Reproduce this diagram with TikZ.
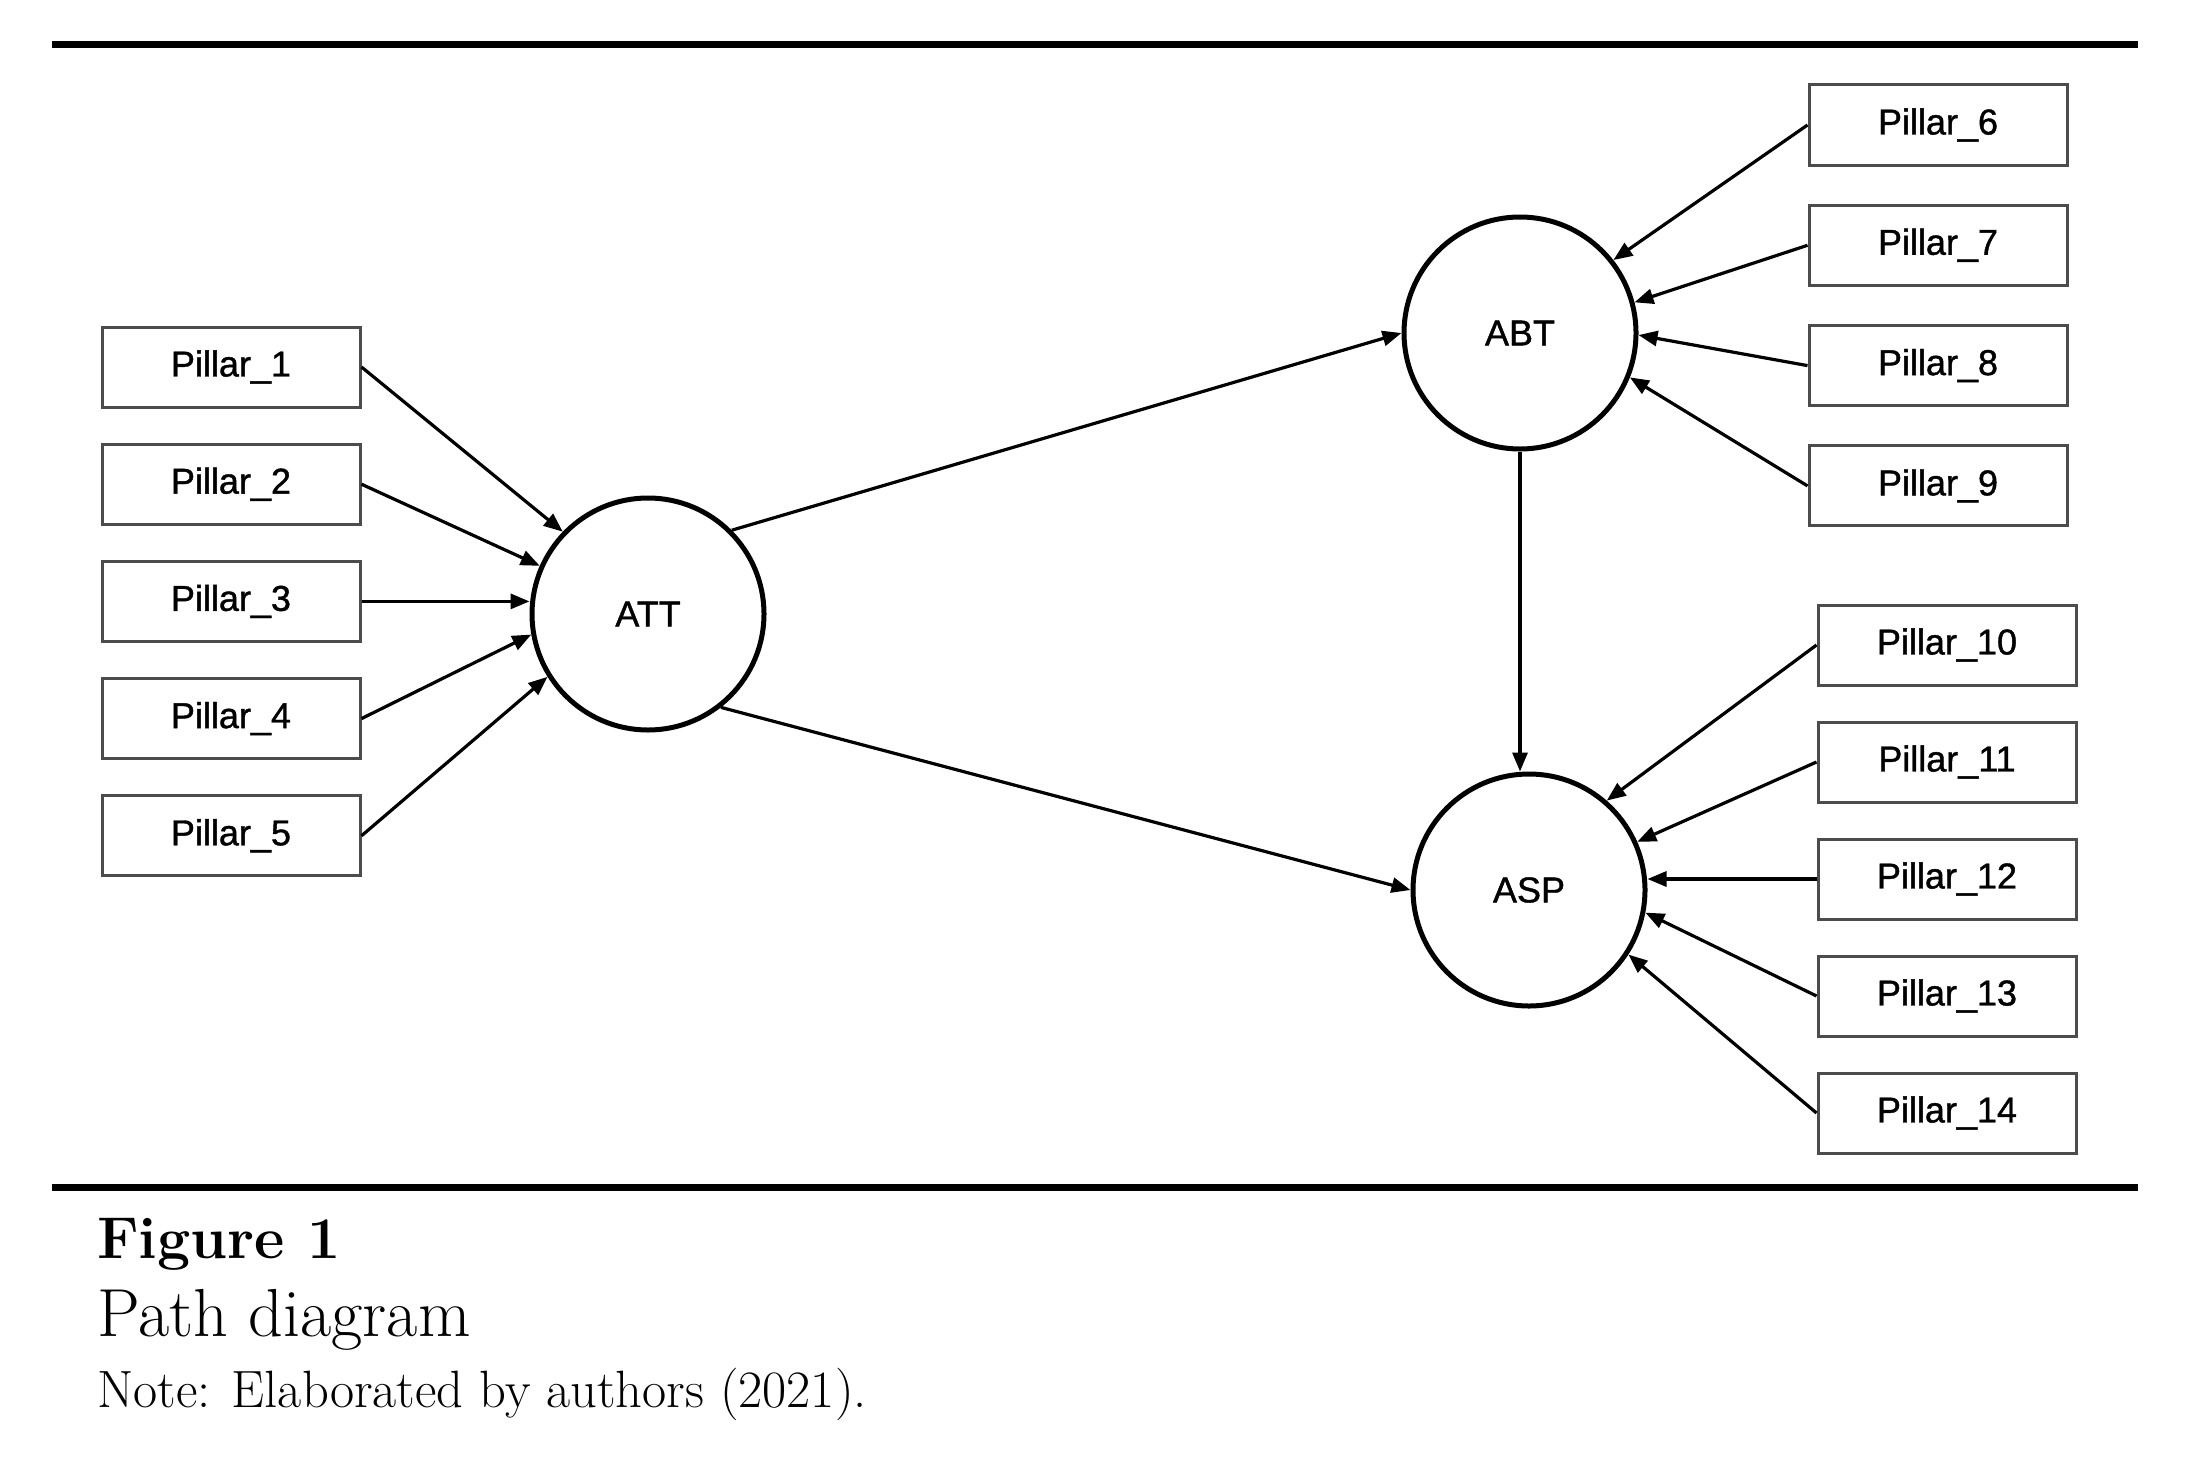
\documentclass[tikz,border=0pt]{standalone}
\usepackage{fontspec}
\newfontfamily\pathsans[FakeBold=1.1]{Liberation Sans}
\usetikzlibrary{arrows.meta}

\tikzset{
  pillar/.style={draw=black!70, line width=3pt, minimum width=258pt, minimum height=80pt,
    inner sep=0pt, font=\pathsans\fontsize{36}{40}\selectfont},
  latent/.style={circle, draw, line width=5pt, minimum size=232pt, inner sep=0pt,
    font=\pathsans\fontsize{36}{40}\selectfont},
  effect/.style={line width=3.2pt, -{Triangle[length=19pt,width=15pt]}},
  rule/.style={line width=7pt},
  caption/.style={anchor=base west, inner sep=0pt},
}

\begin{document}
\begin{tikzpicture}[x=1pt,y=-1pt]
    \useasboundingbox (0,0) rectangle (2186,1469);
    \draw[rule] (52,45) -- (2138,45);
    \draw[rule] (52,1187) -- (2138,1187);

    % latent variables
    \node[latent] (ATT) at (648,614) {ATT};
    \node[latent] (ABT) at (1520,333) {ABT};
    \node[latent] (ASP) at (1529,890) {ASP};

    % indicators
    \foreach \i in {1,...,5}
      \node[pillar] (p\i) at (231,{367+117.2*(\i-1)}) {Pillar\_\i};
    \foreach \i in {6,...,9}
      \node[pillar] (p\i) at (1938,{125+120.3*(\i-6)}) {Pillar\_\i};
    \foreach \i in {10,...,14}
      \node[pillar] (p\i) at (1947,{645+117*(\i-10)}) {Pillar\_\i};

    \foreach \i/\a in {1/136,2/156,4/190,5/212}
      \draw[effect] (p\i.east) -- (ATT.\a);
    \draw[effect] (p3.east) -- (p3.east -| ATT.west);
    \foreach \i/\a in {6/38,7/15,8/-1,9/-22}
      \draw[effect] (p\i.west) -- (ABT.\a);
    \foreach \i/\a in {10/49,11/24,13/-11,14/-33}
      \draw[effect] (p\i.west) -- (ASP.\a);
    \draw[effect] (p12.west) -- (p12.west -| ASP.east);

    % structural paths
    \draw[effect] (ATT.45) -- (ABT.west);
    \draw[effect] (ATT.-52) -- (ASP.west);
    \draw[effect] (ABT.south) -- (ABT.south |- ASP.north);

    % caption
    \node[caption, font=\fontsize{59}{60}\selectfont\bfseries] (fig) at (97,1258) {Figure 1};
    \node[caption, font=\fontsize{68}{70}\selectfont] (title) at (97,1336) {Path diagram};
    \node[caption, font=\fontsize{52.5}{54}\selectfont] (note) at (97,1407) {Note: Elaborated by authors (2021).};
\end{tikzpicture}
\end{document}
